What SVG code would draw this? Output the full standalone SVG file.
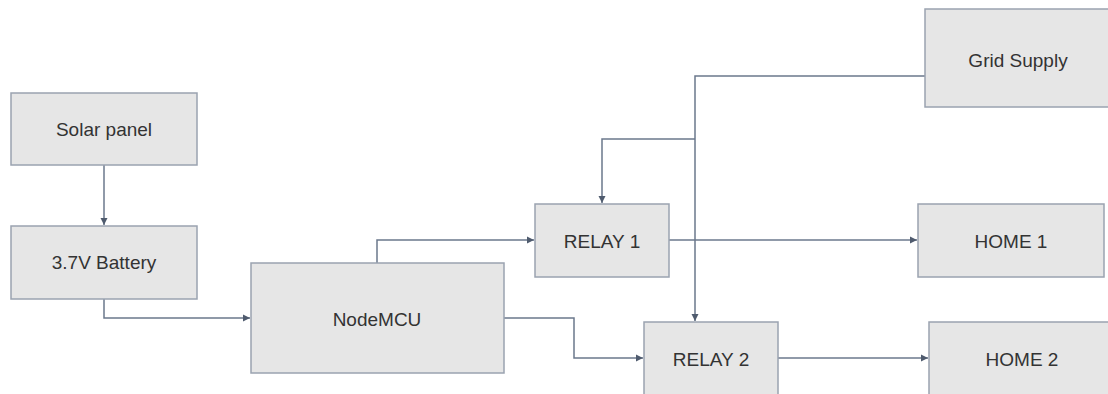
<svg xmlns="http://www.w3.org/2000/svg" width="1108" height="394" viewBox="0 0 1108 394">
<style>
.box{fill:#e6e6e6;stroke:#9aa3b0;stroke-width:1.5}
.lbl{font-family:"Liberation Sans",Arial,sans-serif;font-size:19px;fill:#333;text-anchor:middle;dominant-baseline:central}
.con{fill:none;stroke:#6b788c;stroke-width:1.5}
</style>
<defs>
<marker id="ah" markerWidth="8" markerHeight="8" refX="7" refY="4" orient="auto" markerUnits="userSpaceOnUse">
<path d="M0,0.5 L7,4 L0,7.5 Z" fill="#4f5b6e"/>
</marker>
</defs>
<rect width="1108" height="394" fill="#ffffff"/>
<g id="connectors">
<path class="con" d="M104,165 V225" marker-end="url(#ah)"/>
<path class="con" d="M104,299 V318 H250" marker-end="url(#ah)"/>
<path class="con" d="M377,263 V240 H534" marker-end="url(#ah)"/>
<path class="con" d="M504,318 H574 V358 H643" marker-end="url(#ah)"/>
<path class="con" d="M925,76 H695 V321" marker-end="url(#ah)"/>
<path class="con" d="M695,139 H602 V203" marker-end="url(#ah)"/>
<path class="con" d="M669,240 H917" marker-end="url(#ah)"/>
<path class="con" d="M778,358 H928" marker-end="url(#ah)"/>
</g>
<g id="solar"><rect class="box" x="11" y="93" width="186" height="72"/><text class="lbl" x="104" y="129">Solar panel</text></g>
<g id="battery"><rect class="box" x="11" y="226" width="186" height="73"/><text class="lbl" x="104" y="262">3.7V Battery</text></g>
<g id="nodemcu"><rect class="box" x="251" y="263" width="253" height="110"/><text class="lbl" x="377" y="319">NodeMCU</text></g>
<g id="relay1"><rect class="box" x="535" y="204" width="134" height="73"/><text class="lbl" x="602" y="241">RELAY 1</text></g>
<g id="relay2"><rect class="box" x="644" y="322" width="134" height="73"/><text class="lbl" x="711" y="359">RELAY 2</text></g>
<g id="grid"><rect class="box" x="925" y="9" width="186" height="98"/><text class="lbl" x="1018" y="60">Grid Supply</text></g>
<g id="home1"><rect class="box" x="918" y="204" width="186" height="73"/><text class="lbl" x="1011" y="241">HOME 1</text></g>
<g id="home2"><rect class="box" x="929" y="322" width="186" height="73"/><text class="lbl" x="1022" y="359">HOME 2</text></g>
</svg>
